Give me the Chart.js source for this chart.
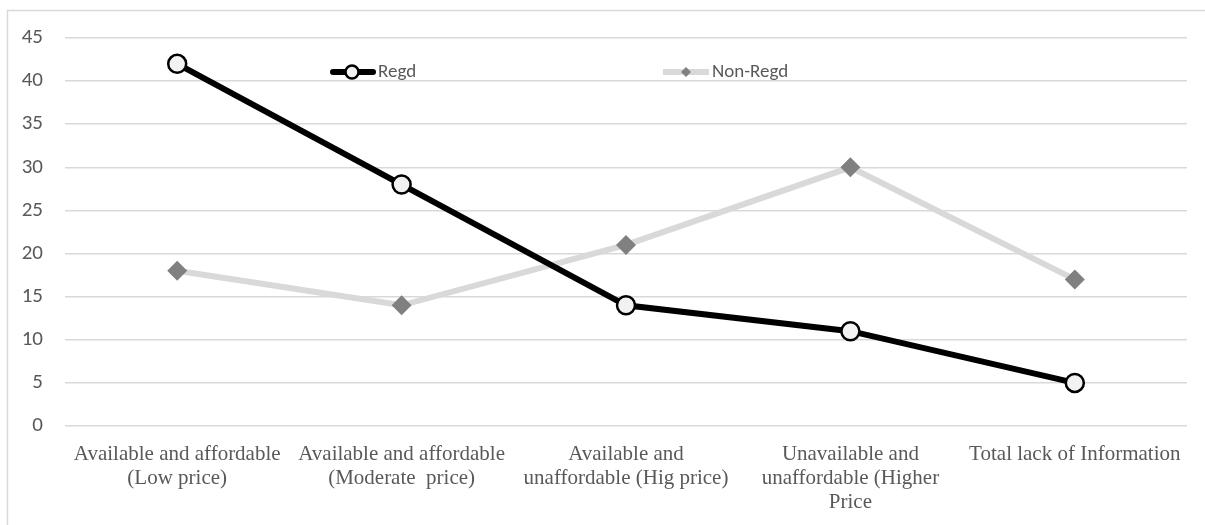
<!DOCTYPE html>
<html>
<head>
<meta charset="utf-8">
<script src="https://cdn.jsdelivr.net/npm/chart.js@4/dist/chart.umd.min.js"></script>
<style>
  html, body { margin: 0; padding: 0; background: #fff; }
  #wrap { position: relative; width: 1205px; height: 525px; }
</style>
</head>
<body>
<div id="wrap"><canvas id="c"></canvas></div>
<script>
// data
const categories = [
  ['Available and affordable', '(Low price)'],
  ['Available and affordable', '(Moderate  price)'],
  ['Available and', 'unaffordable (Hig price)'],
  ['Unavailable and', 'unaffordable (Higher', 'Price'],
  'Total lack of Information'
];
const regd    = [42, 28, 14, 11, 5];
const nonRegd = [18, 14, 21, 30, 17];

const GRID   = '#d9d9d9';
const TEXT   = '#595959';
const SANS   = "Carlito, Lato, 'Liberation Sans', sans-serif";
const SERIF  = "'Liberation Serif', 'DejaVu Serif', serif";

// frame around the whole chart + legend sitting inside the plot area
const decor = {
  id: 'decor',
  beforeDraw(chart) {
    const c = chart.ctx;
    c.save();
    c.strokeStyle = GRID;
    c.lineWidth = 1.5;
    c.strokeRect(7.5, 10.5, 1205, 525);
    c.restore();
  },
  afterDraw(chart) {
    const c = chart.ctx;
    const y = 72;
    c.save();
    // Regd
    c.lineCap = 'round';
    c.strokeStyle = '#000';
    c.lineWidth = 6;
    c.beginPath(); c.moveTo(333, y); c.lineTo(373, y); c.stroke();
    c.beginPath(); c.arc(352, y, 6.5, 0, Math.PI * 2);
    c.fillStyle = '#f2f2f2'; c.fill();
    c.lineWidth = 2.5; c.stroke();
    // Non-Regd
    c.lineCap = 'butt';
    c.strokeStyle = GRID;
    c.lineWidth = 6;
    c.beginPath(); c.moveTo(663, y); c.lineTo(709, y); c.stroke();
    c.fillStyle = '#808080';
    c.beginPath();
    c.moveTo(686, y - 5); c.lineTo(691, y); c.lineTo(686, y + 5); c.lineTo(681, y);
    c.closePath(); c.fill();
    // texts
    c.fillStyle = TEXT;
    c.font = '19px ' + SANS;
    c.textBaseline = 'middle';
    c.fillText('Regd', 378, y);
    c.fillText('Non-Regd', 712, y);
    c.restore();
  }
};

new Chart(document.getElementById('c'), {
  type: 'line',
  data: {
    labels: categories,
    datasets: [
      {
        label: 'Regd',
        data: regd,
        borderColor: '#000',
        borderWidth: 6,
        pointRadius: 9,
        pointBackgroundColor: '#f2f2f2',
        pointBorderColor: '#000',
        pointBorderWidth: 2.5,
        tension: 0,
        order: 1
      },
      {
        label: 'Non-Regd',
        data: nonRegd,
        borderColor: GRID,
        borderWidth: 6,
        pointStyle: 'rectRot',
        pointRadius: 10,
        pointBackgroundColor: '#808080',
        pointBorderColor: '#808080',
        pointBorderWidth: 0,
        tension: 0,
        order: 2
      }
    ]
  },
  options: {
    responsive: true,
    maintainAspectRatio: false,
    animation: false,
    layout: { padding: { top: 38, right: 18, left: 0, bottom: 0 } },
    plugins: {
      legend:  { display: false },
      tooltip: { enabled: false }
    },
    scales: {
      x: {
        offset: true,
        grid:   { display: false },
        border: { display: false },
        ticks: {
          color: TEXT,
          font: { family: SERIF, size: 21, lineHeight: 1.15 },
          maxRotation: 0,
          autoSkip: false,
          padding: 8
        },
        afterFit(scale) { scale.height = 99; }
      },
      y: {
        min: 0,
        max: 45,
        grid:   { color: GRID, lineWidth: 1.5, drawTicks: false },
        border: { display: false },
        ticks: {
          stepSize: 5,
          color: TEXT,
          font: { family: SANS, size: 21 },
          padding: 22
        },
        afterFit(scale) { scale.width = 65; }
      }
    }
  },
  plugins: [decor]
});
</script>
</body>
</html>
